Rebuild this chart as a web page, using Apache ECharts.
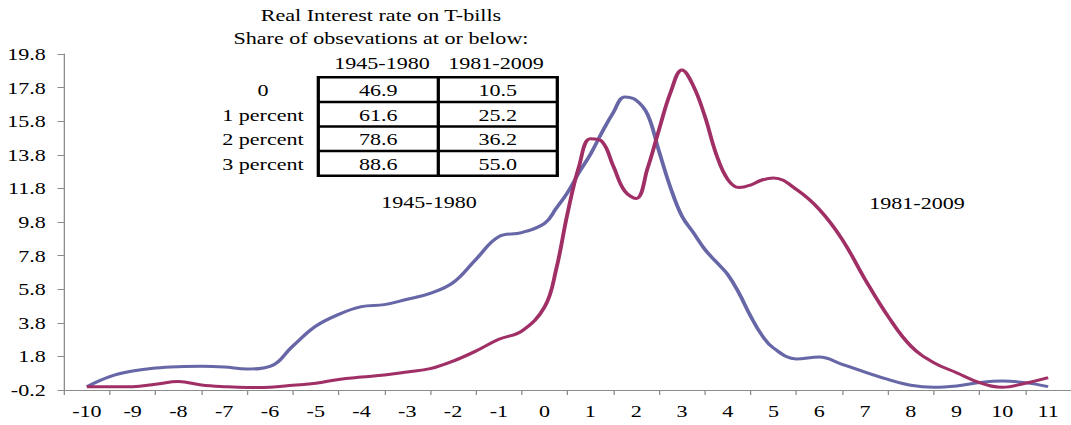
<!DOCTYPE html>
<html>
<head>
<meta charset="utf-8">
<script src="https://cdn.jsdelivr.net/npm/echarts@6/dist/echarts.min.js"></script>
<style>
  html, body { margin: 0; padding: 0; background: #fff; overflow: hidden; }
  #chart { width: 824px; height: 425px; transform: scaleX(1.29976); transform-origin: 0 0; }
</style>
</head>
<body>
<div id="chart"></div>
<script>
// ---------- data ----------
const xLabels = ['-10','-9','-8','-7','-6','-5','-4','-3','-2','-1','0','1','2','3','4','5','6','7','8','9','10','11'];
const yTicks = [-0.2, 1.8, 3.8, 5.8, 7.8, 9.8, 11.8, 13.8, 15.8, 17.8, 19.8];

const blueName = '1945-1980';
const blueX = [-10,-9.5,-9,-8.5,-8,-7.5,-7,-6.5,-6,-5.5,-5,-4.5,-4,-3.5,-3,-2.5,-2,-1.5,-1,-0.5,
  0,0.25,0.5,0.75,1,1.25,1.5,1.75,2,2.25,2.5,2.75,3,3.25,3.5,3.75,4,4.25,4.5,4.75,5,
  5.5,6,6.5,7,7.5,8,8.5,9,9.5,10,10.5,11];
const blueY = [0,0.6,0.93,1.11,1.19,1.21,1.17,1.05,1.2,2.42,3.6,4.3,4.76,4.88,5.2,5.55,6.19,7.58,8.93,9.17,
  9.72,10.6,11.55,12.74,13.83,15.12,16.31,17.24,17.05,16.2,14.0,11.85,10.15,9.17,8.17,7.42,6.68,5.55,4.2,3.05,2.3,
  1.65,1.76,1.33,0.87,0.43,0.08,-0.04,0.04,0.24,0.33,0.24,0];

const redName = '1981-2009';
const redX = [-10,-9.5,-9,-8.5,-8,-7.5,-7,-6.5,-6,-5.5,-5,-4.5,-4,-3.5,-3,-2.5,-2,-1.5,-1,-0.5,
  0,0.25,0.5,0.75,1,1.25,1.5,1.75,2,2.25,2.5,2.75,3,3.25,3.5,3.75,4,4.25,4.5,4.75,5,
  5.5,6,6.5,7,7.5,8,8.5,9,9.5,10,10.5,11];
const redY = [0,0,0,0.14,0.3,0.1,0,-0.05,-0.03,0.08,0.2,0.43,0.57,0.69,0.87,1.07,1.52,2.12,2.82,3.31,
  4.75,6.95,10.3,13.1,14.75,14.6,13.13,11.64,11.2,13.0,15.3,17.5,18.85,17.9,16.1,13.83,12.34,11.85,12.0,12.3,12.42,
  11.74,10.55,8.77,6.39,4.2,2.42,1.43,0.83,0.24,-0.04,0.2,0.54];

const titleLines = ['Real Interest rate on T-bills', 'Share of obsevations at or below:'];
const tableCols = ['1945-1980', '1981-2009'];
const tableRows = ['0', '1 percent', '2 percent', '3 percent'];
const tableCol1 = [46.9, 61.6, 78.6, 88.6];
const tableCol2 = [10.5, 25.2, 36.2, 55.0];

// ---------- layout helpers ----------
const S = 1071 / 824;           // horizontal stretch applied by CSS
const px = v => v / S;          // reference x (px) -> chart x
const FONT = '17px "Liberation Serif", "Times New Roman", serif';
const BLUE = '#6767a8';
const RED = '#a02f66';
const AXIS = '#8c8c8c';

const chart = echarts.init(document.getElementById('chart'), null, { renderer: 'svg' });

function txt(text, x, y, align) {
  return { type: 'text', style: { text: text, x: px(x), y: y, fill: '#000', font: FONT,
    align: align || 'center', verticalAlign: 'middle' } };
}

const graphics = [];
graphics.push(txt(titleLines[0], 381, 15));
graphics.push(txt(titleLines[1], 381, 38));
graphics.push(txt(tableCols[0], 382, 63));
graphics.push(txt(tableCols[1], 496, 63));

const tLeft = 318.3, tMid = 438.3, tRight = 557.3, tTop = 77.3, rowH = 24.6;
const lineStyle = { stroke: '#000', lineWidth: 2.5, fill: null };
graphics.push({ type: 'rect', shape: { x: px(tLeft), y: tTop, width: px(tRight) - px(tLeft), height: rowH * tableRows.length }, style: lineStyle });
graphics.push({ type: 'line', shape: { x1: px(tMid), y1: tTop, x2: px(tMid), y2: tTop + rowH * tableRows.length }, style: lineStyle });
tableRows.forEach((r, i) => {
  const cy = tTop + rowH * (i + 0.5) + 0.5;
  if (i > 0) {
    graphics.push({ type: 'line', shape: { x1: px(tLeft), y1: tTop + rowH * i, x2: px(tRight), y2: tTop + rowH * i }, style: lineStyle });
  }
  graphics.push(txt(r, 263, cy));
  graphics.push(txt(tableCol1[i].toFixed(1), (tLeft + tMid) / 2, cy));
  graphics.push(txt(tableCol2[i].toFixed(1), (tMid + tRight) / 2, cy));
});

graphics.push(txt(blueName, 429, 202));
graphics.push(txt(redName, 917, 203));

const option = {
  backgroundColor: '#fff',
  animation: false,
  grid: { left: px(64), top: 54, width: px(64 + 22 * 46.1) - px(64), bottom: 35, containLabel: false },
  xAxis: [
    {
      type: 'category', data: xLabels, boundaryGap: true, position: 'bottom',
      axisLine: { show: true, onZero: false, lineStyle: { color: AXIS, width: 1 } },
      axisTick: { show: true, alignWithLabel: false, length: 5, lineStyle: { color: AXIS } },
      axisLabel: { color: '#000', fontFamily: '"Liberation Serif", "Times New Roman", serif', fontSize: 17, margin: 12, interval: 0 },
      splitLine: { show: false }
    },
    { type: 'value', min: -10.5, max: 11.5, show: false, axisLine: { onZero: false } }
  ],
  yAxis: {
    type: 'value', min: yTicks[0], max: yTicks[yTicks.length - 1], interval: 2, position: 'left',
    axisLine: { show: true, onZero: false, lineStyle: { color: AXIS, width: 1 } },
    axisTick: { show: true, length: 5, lineStyle: { color: AXIS } },
    axisLabel: { color: '#000', fontFamily: '"Liberation Serif", "Times New Roman", serif', fontSize: 17, margin: 14,
      formatter: v => v.toFixed(1) },
    splitLine: { show: false }
  },
  series: [
    { name: blueName, type: 'line', xAxisIndex: 1, smooth: 0.4, symbol: 'none',
      lineStyle: { color: BLUE, width: 3 }, data: blueX.map((x, i) => [x, blueY[i]]) },
    { name: redName, type: 'line', xAxisIndex: 1, smooth: 0.4, symbol: 'none',
      lineStyle: { color: RED, width: 3 }, data: redX.map((x, i) => [x, redY[i]]) }
  ],
  graphic: graphics
};
chart.setOption(option);
</script>
</body>
</html>
